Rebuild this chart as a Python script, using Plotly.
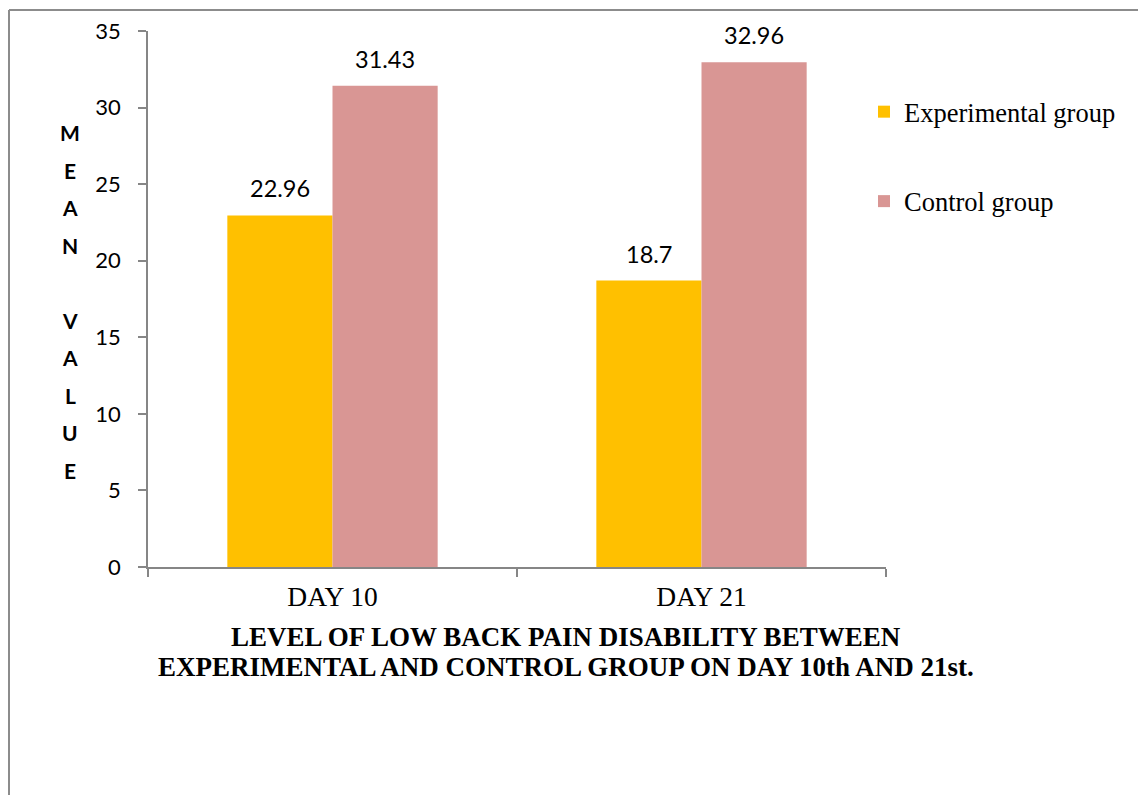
import plotly.graph_objects as go

# Mean low back pain disability scores
days = ["DAY 10", "DAY 21"]
experimental = [22.96, 18.7]
control = [31.43, 32.96]
series_names = ["Experimental group", "Control group"]
y_ticks = [0, 5, 10, 15, 20, 25, 30, 35]
axis_letters = ["M", "E", "A", "N", "", "V", "A", "L", "U", "E"]
title_lines = [
    "LEVEL OF LOW BACK PAIN DISABILITY BETWEEN",
    "EXPERIMENTAL AND CONTROL GROUP ON DAY 10th AND 21st.",
]

W, H = 1138, 795
L, R, T, B = 148, 252, 31, 227.5
plot_w = W - L - R
plot_h = H - T - B

def px_x(px):
    return (px - L) / plot_w

def px_y(py):
    return (H - B - py) / plot_h

colors = ["#FFC000", "#D99694"]
SERIF = "Liberation Serif, Times New Roman, serif"
SANS = "Lato, Carlito, Calibri, sans-serif"

fig = go.Figure()
for i, (name, vals) in enumerate(zip(series_names, [experimental, control])):
    fig.add_trace(go.Bar(
        x=days, y=vals, name=name,
        marker=dict(color=colors[i], line=dict(width=0)),
        legendgroup=name,
        hoverinfo="skip",
    ))

# value labels above each bar
half_bar = plot_w / len(days) * (1 - 0.43) / 4
for i, vals in enumerate([experimental, control]):
    shift = -half_bar if i == 0 else half_bar
    for d, v in zip(days, vals):
        fig.add_annotation(
            x=d, y=v, xref="x", yref="y", text=f"{v:g}", showarrow=False,
            xshift=shift, yanchor="bottom", yshift=11,
            font=dict(family=SANS, size=23.5, color="#000000"),
        )

# stacked vertical axis title
for k, ch in enumerate(axis_letters):
    if not ch:
        continue
    fig.add_annotation(
        x=px_x(70), y=px_y(133 + k * 37.5), xref="paper", yref="paper",
        text=f"<b>{ch}</b>", showarrow=False, xanchor="center", yanchor="middle",
        font=dict(family=SANS, size=21, color="#000000"),
    )

# chart title beneath the axis
for k, line in enumerate(title_lines):
    fig.add_annotation(
        x=px_x(566), y=px_y(638 + k * 30), xref="paper", yref="paper",
        text=f"<b>{line}</b>", showarrow=False, xanchor="center", yanchor="middle",
        font=dict(family=SERIF, size=27, color="#000000"),
    )

# outer frame lines
frame = dict(color="#8C8C8C", width=2)
fig.add_shape(type="line", xref="paper", yref="paper",
              x0=px_x(9), x1=px_x(9), y0=px_y(10), y1=px_y(H + 5), line=frame)
fig.add_shape(type="line", xref="paper", yref="paper",
              x0=px_x(9), x1=px_x(W + 5), y0=px_y(10), y1=px_y(10), line=frame)

fig.update_layout(
    width=W, height=H,
    margin=dict(l=L, r=R, t=T, b=B, autoexpand=False),
    paper_bgcolor="#FFFFFF", plot_bgcolor="#FFFFFF",
    barmode="group", bargap=0.43, bargroupgap=0,
    showlegend=True,
    legend=dict(
        x=px_x(864), y=px_y(88), xanchor="left", yanchor="top",
        font=dict(family=SERIF, size=26.5, color="#000000"),
        traceorder="grouped", tracegroupgap=52,
        bgcolor="rgba(0,0,0,0)",
    ),
    xaxis=dict(
        showline=True, linecolor="#868686", linewidth=1.5,
        ticks="outside", tickson="boundaries", ticklen=8, tickcolor="#868686", tickwidth=1.5,
        tickfont=dict(family=SERIF, size=27.5, color="#000000"),
        showgrid=False, zeroline=False, fixedrange=True,
        ticklabelstandoff=4,
    ),
    yaxis=dict(
        range=[0, 35], tickvals=y_ticks,
        showline=True, linecolor="#868686", linewidth=1.5,
        ticks="outside", ticklen=8, tickcolor="#868686", tickwidth=1.5,
        tickfont=dict(family=SANS, size=22, color="#000000"),
        showgrid=False, zeroline=False, fixedrange=True,
        ticklabelstandoff=13,
    ),
)

fig.write_html("out.html")
